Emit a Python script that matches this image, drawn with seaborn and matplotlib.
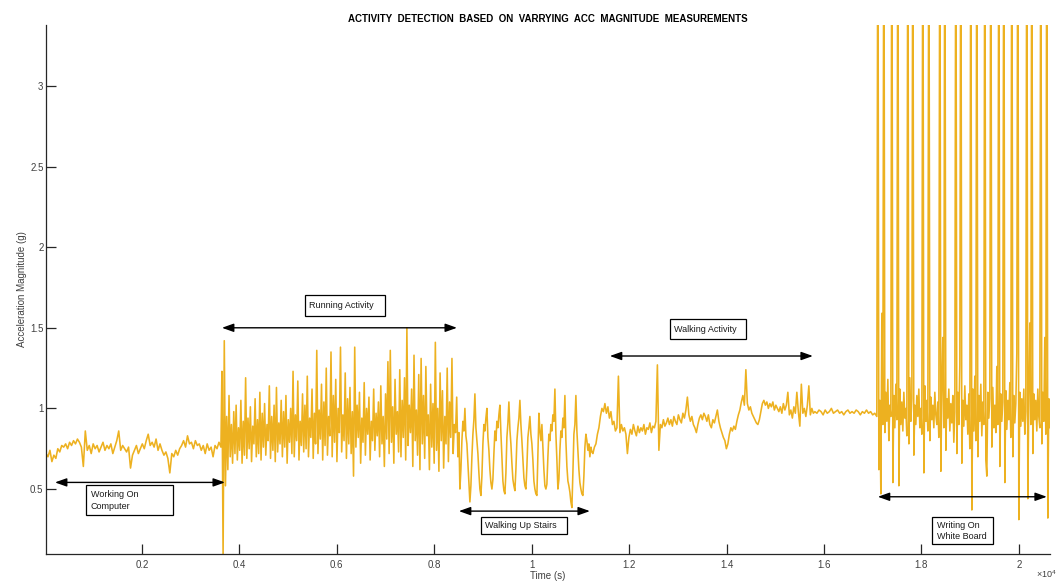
import numpy as np
import pandas as pd
import matplotlib
matplotlib.use("Agg")
import matplotlib.pyplot as plt
from matplotlib.patches import Rectangle
import seaborn as sns

# ---------------- data ----------------
# time spans (samples) covered by each recorded activity segment
segment_spans = [(30, 3621), (3641, 8485), (8506, 11236),
                 (11257, 15782), (15813, 17085), (17106, 20636)]

computer_vals = [
    0.72, 0.70, 0.74, 0.67, 0.71, 0.69,
    0.75, 0.73, 0.77, 0.76, 0.78, 0.75, 0.79, 0.77, 0.80, 0.78, 0.81, 0.79,
    0.76, 0.64, 0.86, 0.74, 0.77, 0.72, 0.78, 0.75,
    0.77, 0.73, 0.76, 0.79, 0.74, 0.77, 0.75, 0.78, 0.72, 0.76, 0.80, 0.86, 0.74, 0.77, 0.75,
    0.73, 0.76, 0.63, 0.71, 0.74, 0.77, 0.72, 0.75,
    0.78, 0.75, 0.80, 0.84, 0.77, 0.79, 0.76, 0.81, 0.74, 0.78,
    0.74, 0.71, 0.73, 0.69, 0.60, 0.72, 0.70, 0.74, 0.71, 0.75,
    0.77, 0.80, 0.76, 0.83, 0.78, 0.79, 0.75, 0.80, 0.77, 0.78,
    0.74, 0.77, 0.72, 0.78, 0.74, 0.76, 0.70, 0.77, 0.75, 0.79, 0.76,
]

running_vals = [
    1.23, 0.08, 1.42, 0.52, 0.95, 0.62, 1.08, 0.70, 0.90, 0.66,
    0.98, 0.72, 1.02, 0.68, 0.88, 0.74, 1.05, 0.66, 0.92, 0.71,
    1.19, 0.69, 0.94, 0.75, 1.01, 0.67, 0.89, 0.78, 1.06, 0.70,
    0.93, 0.72, 1.10, 0.68, 0.97, 0.76, 1.03, 0.71, 0.90, 0.80,
    1.14, 0.69, 0.95, 0.74, 1.02, 0.67, 1.13, 0.73, 0.91, 0.78,
    1.05, 0.70, 0.98, 0.76, 1.08, 0.66, 0.93, 0.79, 1.00, 0.72,
    1.23, 0.70, 0.96, 0.80, 1.17, 0.68, 0.92, 0.77, 1.09, 0.73,
    1.02, 0.75, 1.20, 0.70, 0.94, 0.82, 1.12, 0.69, 0.97, 0.78,
    1.36, 0.72, 0.99, 0.81, 1.15, 0.68, 1.04, 0.77, 1.25, 0.71,
    0.95, 0.83, 1.35, 0.70, 1.08, 0.79, 1.18, 0.67, 1.00, 0.85,
    1.38, 0.73, 0.96, 0.80, 1.22, 0.69, 1.06, 0.78, 1.13, 0.72,
    0.98, 0.58, 1.38, 0.76, 1.02, 0.82, 1.10, 0.66, 0.94, 0.79,
    1.16, 0.71, 1.00, 0.84, 1.07, 0.68, 0.92, 0.80, 1.12, 0.74,
    0.97, 0.83, 1.04, 0.70, 1.14, 0.78, 0.95, 0.64, 1.09, 0.81,
    1.29, 0.72, 1.36, 0.79, 1.01, 0.66, 1.18, 0.84, 0.98, 0.73,
    1.24, 0.70, 1.05, 0.82, 1.19, 0.68, 1.50, 0.77, 1.02, 0.85,
    1.12, 0.64, 1.33, 0.80, 0.99, 0.71, 1.21, 0.62, 1.31, 0.78,
    1.08, 0.69, 1.26, 0.83, 0.96, 0.62, 1.15, 0.76, 1.03, 0.66,
    1.41, 0.74, 1.00, 0.61, 1.22, 0.80, 1.11, 0.63, 0.95, 0.78,
    1.25, 0.67, 1.04, 0.82, 1.31, 0.72, 0.90, 0.85, 1.07, 0.70,
]

stairs_vals = [
    0.85, 0.50, 0.62, 0.80, 0.92, 0.86, 1.00, 0.83, 0.78, 0.66,
    0.55, 0.42, 0.52, 0.70, 0.84, 0.93, 1.09, 0.88, 0.80, 0.72,
    0.60, 0.50, 0.46, 0.58, 0.78, 0.90, 0.86, 0.94, 1.00, 0.82,
    0.74, 0.62, 0.54, 0.50, 0.56, 0.72, 0.86, 0.80, 0.92, 0.88,
    0.96, 1.02, 0.85, 0.70, 0.55, 0.49, 0.47, 0.60, 0.82, 0.91,
    1.04, 0.87, 0.78, 0.66, 0.56, 0.52, 0.49, 0.62, 0.80, 0.88,
    0.94, 1.05, 0.90, 0.80, 0.68, 0.57, 0.52, 0.50, 0.64, 0.82,
    0.88, 0.95, 0.84, 0.78, 0.68, 0.55, 0.50, 0.47, 0.46, 0.72,
    0.97, 0.86, 0.80, 0.90, 0.76, 0.62, 0.52, 0.50, 0.53, 0.70,
    0.84, 0.80, 0.90, 0.86, 0.96, 0.92, 1.12, 0.84, 0.68, 0.50,
    0.56, 0.74, 0.86, 0.82, 0.94, 0.88, 1.08, 0.80, 0.64, 0.55,
    0.52, 0.48, 0.42, 0.385, 0.60, 0.84, 0.90, 1.08, 0.86, 0.74,
    0.62, 0.54, 0.50, 0.47, 0.46, 0.58, 0.76, 0.84, 0.80, 0.74,
    0.78, 0.70, 0.76, 0.73,
]

walking_vals = [
    0.72, 0.76, 0.78, 0.84, 0.88, 0.95, 1.00, 0.98, 1.03, 0.97,
    1.01, 0.94, 0.98, 0.90, 0.92, 0.86, 0.88, 1.20, 0.85, 0.90,
    0.86, 0.88, 0.84, 0.72, 0.82, 0.87, 0.84, 0.90, 0.86, 0.83,
    0.89, 0.85, 0.88, 0.86, 0.90, 0.84, 0.88, 0.87, 0.91, 0.85,
    0.89, 0.88, 0.92, 1.27, 0.74, 0.90, 0.88, 0.93, 0.89, 0.91,
    0.94, 0.90, 0.93, 0.89, 0.95, 0.92, 0.90, 0.96, 0.93, 0.91,
    0.97, 0.94, 0.99, 1.07, 0.96, 0.92, 0.95, 0.90, 0.88, 0.85,
    0.90, 0.94, 0.96, 0.93, 0.97, 0.95, 0.92, 0.96, 0.90, 0.88,
    0.93, 0.91, 0.95, 0.99, 0.92, 0.88, 0.85, 0.82, 0.80, 0.75,
    0.78, 0.84, 0.88, 0.86, 0.89, 0.87, 0.92, 0.96, 0.99, 1.04,
    1.08, 1.02, 1.24, 1.03, 0.99, 1.01, 0.97, 0.95, 0.93, 0.91,
    0.90, 0.93, 0.98, 1.03, 1.05, 1.02, 1.04, 1.00, 1.03, 1.01,
    1.04, 0.99, 1.02, 1.00, 0.98, 1.01, 0.97, 1.03, 0.99, 1.02,
    1.10, 0.96, 0.99, 0.94, 1.01, 0.97, 1.10, 0.98, 0.89, 1.15,
    0.97, 1.00, 0.95, 1.02, 1.14, 0.96, 1.00, 0.97,
]

rest_vals = [
    0.98, 0.97, 0.99, 0.98, 0.96, 0.99, 0.97, 0.98, 1.00, 0.97,
    0.98, 0.99, 0.97, 0.98, 0.96, 0.98, 0.99, 0.97, 0.98, 0.97,
    0.99, 0.98, 0.96, 0.98, 0.97, 0.99, 0.97, 0.98, 0.96, 0.97, 0.95,
]

writing_vals = [
    4.5, 0.62, 1.05, 0.47, 1.59, 0.90, 4.5, 0.85, 1.10, 0.92,
    1.18, 0.80, 1.02, 0.95, 4.5, 0.54, 1.08, 0.88, 1.15, 0.93,
    4.5, 0.52, 1.12, 0.90, 1.04, 0.86, 1.10, 0.94, 1.00, 0.83,
    4.5, 0.78, 1.19, 0.92, 1.06, 4.5, 0.71, 1.02, 0.90, 1.08,
    0.95, 1.12, 0.88, 1.00, 0.84, 4.5, 0.60, 1.14, 0.92, 1.05,
    0.86, 4.5, 0.80, 1.07, 0.93, 1.02, 0.88, 1.10, 0.96, 0.90,
    1.04, 0.82, 4.5, 0.61, 1.12, 1.44, 0.88, 4.5, 0.74, 1.06,
    0.94, 1.12, 0.86, 1.03, 0.91, 1.08, 0.79, 0.98, 4.5, 0.72,
    1.10, 0.90, 1.27, 4.5, 0.66, 1.05, 0.89, 1.14, 0.93, 1.02,
    0.84, 1.09, 0.75, 4.5, 0.37, 1.12, 0.86, 1.20, 0.80, 4.5,
    0.70, 1.08, 0.92, 1.15, 0.83, 1.04, 0.90, 4.5, 0.68, 0.58,
    1.10, 0.94, 1.06, 4.5, 0.76, 1.13, 0.88, 1.02, 0.85, 1.26,
    0.90, 4.5, 0.64, 1.09, 0.92, 1.04, 4.5, 0.54, 1.11, 0.87,
    1.05, 0.93, 1.16, 0.82, 4.5, 0.70, 1.08, 0.91, 1.03, 1.34,
    4.5, 0.31, 1.10, 0.89, 1.06, 0.92, 1.12, 0.84, 0.98, 4.5,
    0.44, 1.07, 1.53, 0.90, 4.5, 0.72, 1.09, 0.93, 1.05, 0.86,
    1.12, 0.95, 0.88, 4.5, 0.78, 1.10, 0.92, 1.44, 0.84, 4.5,
    0.32, 1.06, 0.88,
]

x_ticks = [2000, 4000, 6000, 8000, 10000, 12000, 14000, 16000, 18000, 20000]
x_tick_labels = ["0.2", "0.4", "0.6", "0.8", "1", "1.2", "1.4", "1.6", "1.8", "2"]
y_ticks = [0.5, 1.0, 1.5, 2.0, 2.5, 3.0]
y_tick_labels = ["0.5", "1", "1.5", "2", "2.5", "3"]

# activity annotations: label, arrow start, arrow end, arrow level
activity_labels = ["Working On\nComputer", "Running Activity", "Walking Up Stairs",
                   "Walking Activity", "Writing On\nWhite Board"]
arrow_start = [214, 3642, 8506, 11605, 17106]
arrow_end = [3703, 8466, 11195, 15772, 20575]
arrow_level = [0.541, 1.50, 0.363, 1.325, 0.452]
# label boxes (x0, x1, y0, y1) in data units
box_x0 = [850, 5345, 8957, 12837, 18214]
box_x1 = [2636, 6987, 10723, 14397, 19466]
box_y0 = [0.336, 1.571, 0.218, 1.428, 0.156]
box_y1 = [0.522, 1.701, 0.324, 1.555, 0.324]

# ---------------- assemble series ----------------
segments = [computer_vals, running_vals, stairs_vals, walking_vals, rest_vals, writing_vals]
xs, ys = [], []
for (s0, s1), vals in zip(segment_spans, segments):
    xs.append(np.linspace(s0, s1, len(vals)))
    ys.append(np.asarray(vals, dtype=float))
df = pd.DataFrame({"sample": np.concatenate(xs), "accel": np.concatenate(ys)})

# ---------------- styling ----------------
sns.set_theme(style="white")
plt.rcParams["font.family"] = ["Liberation Sans", "DejaVu Sans"]
plt.rcParams["mathtext.fontset"] = "custom"
plt.rcParams["mathtext.rm"] = "Liberation Sans"

W, H = 1061, 581
fig = plt.figure(figsize=(W / 100, H / 100), dpi=100)
ax = fig.add_axes([46 / W, 1 - 554 / H, (1050 - 46) / W, (554 - 25) / H])

line_color = "#EDB120"
sns.lineplot(data=df, x="sample", y="accel", estimator=None, sort=False,
             color=line_color, linewidth=1.15, ax=ax)

ax.set_xlim(30, 20640)
ax.set_ylim(0.097, 3.378)

axis_color = "#262626"
for side in ["top", "right"]:
    ax.spines[side].set_visible(False)
for side in ["left", "bottom"]:
    ax.spines[side].set_color(axis_color)
    ax.spines[side].set_linewidth(0.9)

ax.set_xticks(x_ticks)
ax.set_xticklabels(x_tick_labels)
ax.set_yticks(y_ticks)
ax.set_yticklabels(y_tick_labels)
ax.tick_params(axis="both", direction="in", length=7, width=0.9, color=axis_color,
               labelcolor="#404040", labelsize=7)
ax.tick_params(axis="x", pad=4, bottom=True)
ax.tick_params(axis="y", pad=1.8, left=True)

ax.set_xlabel("Time (s)", fontsize=7, color="#404040")
ax.xaxis.set_label_coords(0.5, -0.032)
ax.set_ylabel("Acceleration Magnitude (g)", fontsize=7, color="#404040")
ax.yaxis.set_label_coords(-0.019, 0.5)

fig.text(1036 / W, 1 - 574 / H, r"$\times10^{4}$", fontsize=6.5, color="#404040",
         ha="left", va="center")

ax.set_title("ACTIVITY  DETECTION  BASED  ON  VARRYING  ACC  MAGNITUDE  MEASUREMENTS",
             fontsize=7, fontweight="bold", color="black", pad=2.5)

# annotations
for lab, a0, a1, lvl, bx0, bx1, by0, by1 in zip(activity_labels, arrow_start, arrow_end,
                                                 arrow_level, box_x0, box_x1, box_y0, box_y1):
    ax.annotate("", xy=(a1, lvl), xytext=(a0, lvl),
                arrowprops=dict(arrowstyle="<|-|>,head_length=0.7,head_width=0.25",
                                color="black", lw=1.0, shrinkA=0, shrinkB=0,
                                mutation_scale=10),
                zorder=5)
    ax.add_patch(Rectangle((bx0, by0), bx1 - bx0, by1 - by0, facecolor="white",
                           edgecolor="black", linewidth=0.9, zorder=6))
    ax.text(bx0 + (bx1 - bx0) * 0.05 if "\n" not in lab else bx0 + 100,
            (by0 + by1) / 2, lab, fontsize=6.5, color="#1a1a1a",
            ha="left", va="center", linespacing=1.35, zorder=7)

fig.savefig("out.png", dpi=100)
